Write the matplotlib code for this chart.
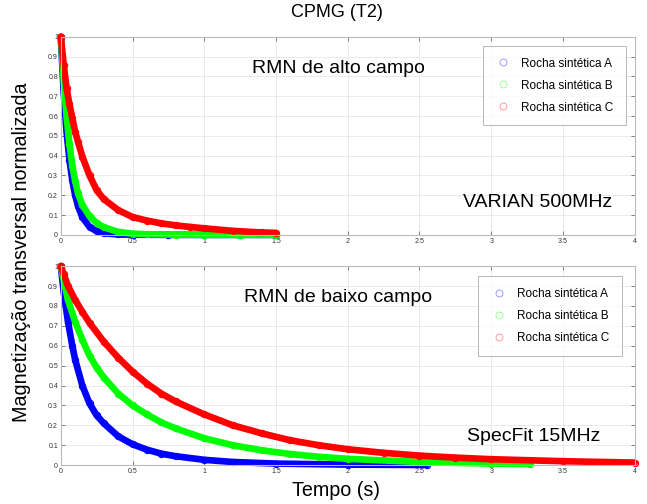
import matplotlib
matplotlib.use("Agg")
import matplotlib.pyplot as plt
from matplotlib.lines import Line2D

plt.rcParams['font.family'] = ['Liberation Sans', 'DejaVu Sans']

# Alto campo (VARIAN 500MHz)
t_alto_A = [0, 0.02, 0.04, 0.06, 0.08, 0.10, 0.12, 0.15, 0.20, 0.25, 0.30, 0.40, 0.50, 0.75, 1.0, 1.25, 1.5]
m_alto_A = [1.0, 0.72, 0.52, 0.38, 0.275, 0.20, 0.145, 0.089, 0.04, 0.018, 0.008, 0.002, 0.001, 0.0, 0.0, 0.0, 0.0]

t_alto_B = [0, 0.02, 0.04, 0.06, 0.08, 0.10, 0.12, 0.15, 0.20, 0.25, 0.30, 0.40, 0.50, 0.60, 0.80, 1.0, 1.25, 1.5]
m_alto_B = [1.0, 0.78, 0.60, 0.46, 0.35, 0.27, 0.21, 0.15, 0.095, 0.06, 0.038, 0.015, 0.006, 0.003, 0.001, 0.0, 0.0, 0.0]

t_alto_C = [0, 0.02, 0.04, 0.06, 0.08, 0.10, 0.12, 0.15, 0.20, 0.25, 0.30, 0.40, 0.50, 0.60, 0.70, 0.80, 0.90, 1.0, 1.2, 1.4, 1.5]
m_alto_C = [1.0, 0.86, 0.74, 0.66, 0.59, 0.52, 0.47, 0.395, 0.30, 0.225, 0.18, 0.125, 0.09, 0.072, 0.058, 0.048, 0.04, 0.033, 0.02, 0.012, 0.01]

# Baixo campo (SpecFit 15MHz)
t_baixo_A = [0, 0.02, 0.05, 0.08, 0.10, 0.15, 0.20, 0.25, 0.30, 0.40, 0.50, 0.60, 0.70, 0.80, 1.0, 1.2, 1.5, 2.0, 2.55]
m_baixo_A = [1.0, 0.87, 0.72, 0.60, 0.53, 0.40, 0.31, 0.25, 0.21, 0.145, 0.105, 0.078, 0.058, 0.045, 0.027, 0.016, 0.008, 0.003, 0.001]

t_baixo_B = [0, 0.02, 0.05, 0.10, 0.15, 0.20, 0.25, 0.30, 0.40, 0.50, 0.60, 0.70, 0.80, 1.0, 1.2, 1.4, 1.6, 1.8, 2.0, 2.5, 3.0, 3.27]
m_baixo_B = [1.0, 0.93, 0.83, 0.72, 0.63, 0.55, 0.49, 0.44, 0.36, 0.30, 0.255, 0.215, 0.185, 0.135, 0.10, 0.075, 0.056, 0.042, 0.032, 0.016, 0.008, 0.006]

t_baixo_C = [0, 0.02, 0.05, 0.10, 0.15, 0.20, 0.30, 0.40, 0.50, 0.60, 0.70, 0.80, 1.0, 1.2, 1.4, 1.6, 1.8, 2.0, 2.25, 2.5, 2.75, 3.0, 3.5, 4.0]
m_baixo_C = [1.0, 0.96, 0.90, 0.83, 0.77, 0.715, 0.62, 0.54, 0.47, 0.41, 0.36, 0.32, 0.255, 0.20, 0.16, 0.125, 0.10, 0.08, 0.062, 0.048, 0.038, 0.03, 0.02, 0.013]

labels = ['Rocha sintética A', 'Rocha sintética B', 'Rocha sintética C']
colors = ['#0000ff', '#00ff00', '#ff0000']
x_ticks = [0, 0.5, 1, 1.5, 2, 2.5, 3, 3.5, 4]
y_ticks = [0, 0.1, 0.2, 0.3, 0.4, 0.5, 0.6, 0.7, 0.8, 0.9, 1]

fig = plt.figure(figsize=(6.47, 5.04), dpi=100)
ax_top = fig.add_axes([0.094, 0.534, 0.887, 0.393])
ax_bot = fig.add_axes([0.094, 0.077, 0.887, 0.395])


def draw_panel(ax, series, title, device, device_x, device_y, leg_anchor):
    for (t, m), c in zip(series, colors):
        ax.plot(t, m, color=c, lw=4.8, solid_capstyle='round', clip_on=False,
                marker='o', markersize=4.5, markerfacecolor='none',
                markeredgecolor=c, markeredgewidth=0.8)
    ax.set_xlim(0, 4)
    ax.set_ylim(0, 1)
    ax.set_xticks(x_ticks)
    ax.set_xticklabels(['0', '0.5', '1', '1.5', '2', '2.5', '3', '3.5', '4'])
    ax.set_yticks(y_ticks)
    ax.set_yticklabels(['0', '0.1', '0.2', '0.3', '0.4', '0.5', '0.6', '0.7', '0.8', '0.9', '1'])
    ax.tick_params(labelsize=5, direction='in', length=3, width=0.5,
                   color='#555555', labelcolor='#333333', top=True, right=True, pad=2)
    ax.grid(True, color='#e6e6e6', lw=0.6)
    ax.set_axisbelow(True)
    for s in ax.spines.values():
        s.set_color('#bbbbbb')
        s.set_linewidth(0.8)
    ax.text(0.483, 0.84, title, transform=ax.transAxes, ha='center', va='center',
            fontsize=14)
    ax.text(device_x, device_y, device, transform=ax.transAxes, ha='right', va='center',
            fontsize=14)
    handles = [Line2D([], [], ls='none', marker='o', markersize=5,
                      markerfacecolor='none', markeredgecolor=c,
                      markeredgewidth=0.6, alpha=0.45) for c in colors]
    leg = ax.legend(handles, labels, loc='upper right', bbox_to_anchor=leg_anchor,
                    fontsize=8.5, frameon=True, fancybox=False, borderpad=1.0,
                    labelspacing=0.85, handletextpad=0.9, handlelength=1.4,
                    borderaxespad=0)
    leg.get_frame().set_edgecolor('#999999')
    leg.get_frame().set_linewidth(0.6)


draw_panel(ax_top, [(t_alto_A, m_alto_A), (t_alto_B, m_alto_B), (t_alto_C, m_alto_C)],
           'RMN de alto campo', 'VARIAN 500MHz', 0.96, 0.165, (0.984, 0.955))
draw_panel(ax_bot, [(t_baixo_A, m_baixo_A), (t_baixo_B, m_baixo_B), (t_baixo_C, m_baixo_C)],
           'RMN de baixo campo', 'SpecFit 15MHz', 0.94, 0.145, (0.977, 0.95))

fig.text(0.52, 0.975, 'CPMG (T2)', ha='center', va='center', fontsize=13)
fig.text(0.034, 0.5, 'Magnetização transversal normalizada', rotation=90,
         ha='center', va='center', fontsize=14.2)
fig.text(0.52, 0.027, 'Tempo (s)', ha='center', va='center', fontsize=14.2)

fig.savefig('out.png', dpi=100)
